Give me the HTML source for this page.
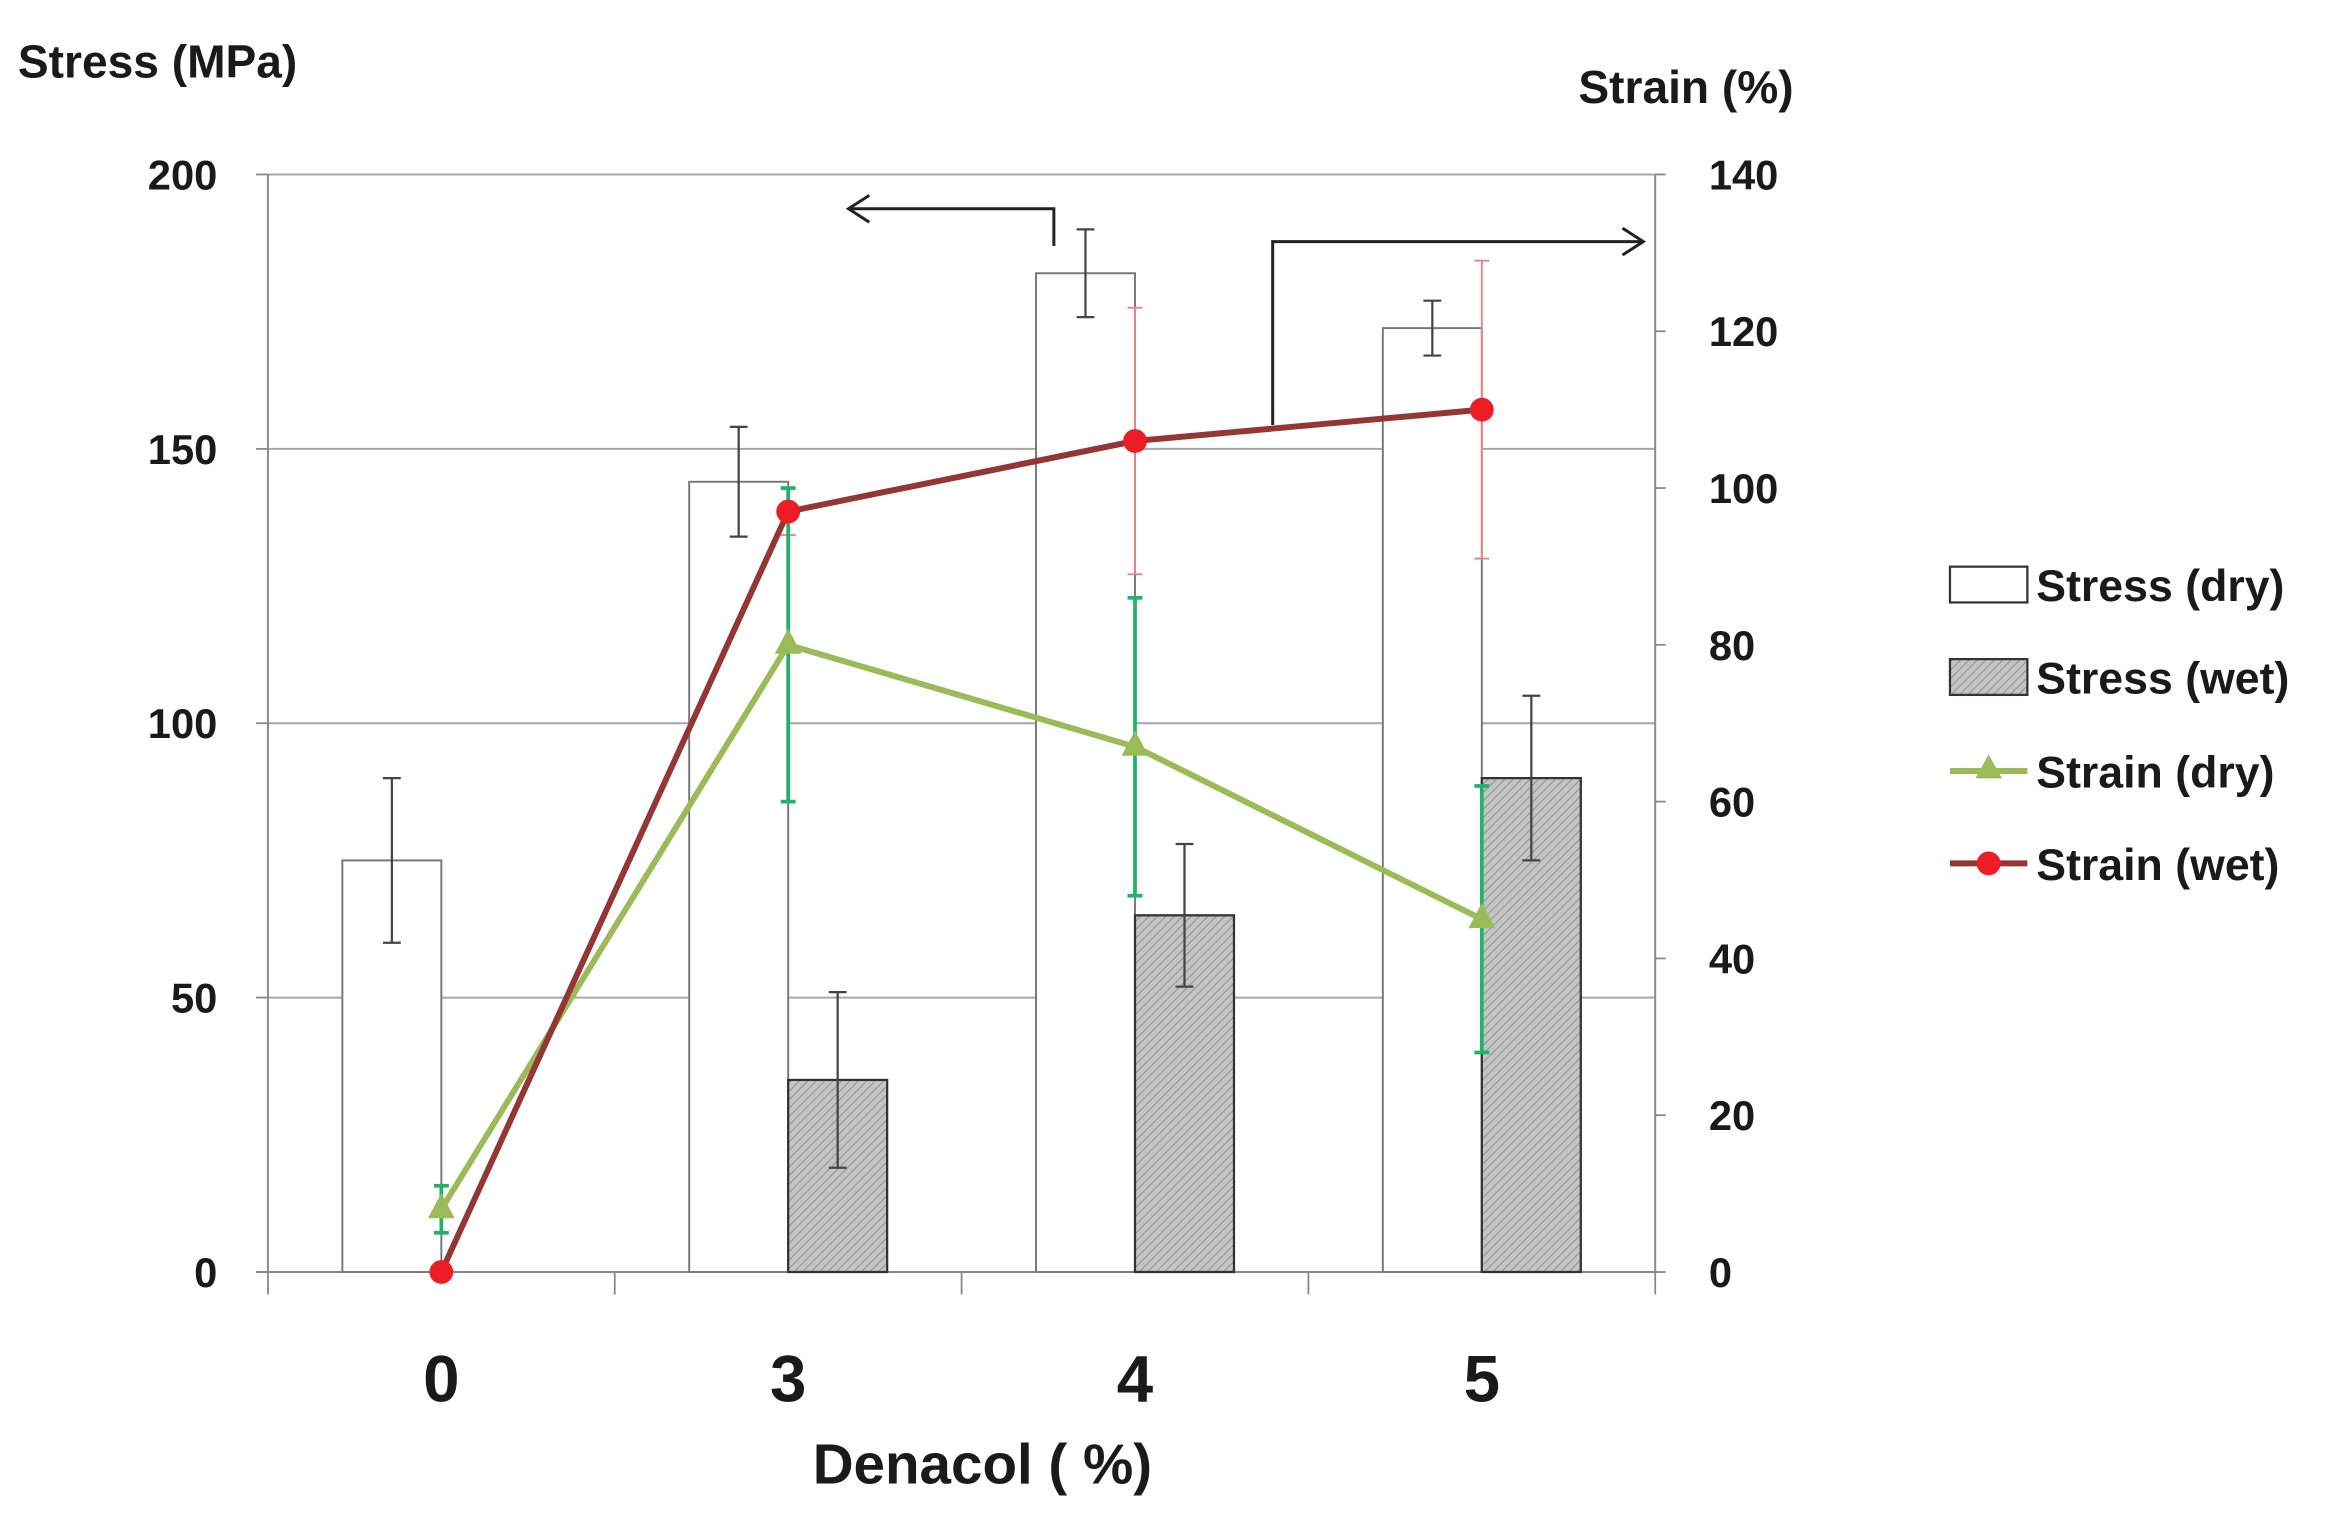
<!DOCTYPE html>
<html><head><meta charset="utf-8"><style>
html,body{margin:0;padding:0;background:#fff;}
svg{display:block;}
text{font-family:"Liberation Sans",Arial,sans-serif;font-weight:bold;fill:#1a1a1a;}
</style></head><body>
<svg id="chart" width="2334" height="1527" viewBox="0 0 1568 1024" preserveAspectRatio="none" xmlns="http://www.w3.org/2000/svg">
<defs>
<pattern id="hatch" width="4" height="4" patternUnits="userSpaceOnUse" patternTransform="rotate(45)">
<rect width="4" height="4" fill="#c4c4c4"/><line x1="0" y1="0" x2="0" y2="4" stroke="#8a8a8a" stroke-width="1.2"/>
</pattern>
</defs>
<g id="grid"></g>
<g id="bars"></g>
<g id="lines"></g>
<text x="12" y="52" font-size="31">Stress (MPa)</text>
<text x="1205" y="69" font-size="31" text-anchor="end">Strain (%)</text>
<text x="660" y="995" font-size="38" text-anchor="middle">Denacol ( %)</text>
<g fill="none" stroke="#222" stroke-width="2">
<polyline points="708,165 708,140 570,140"/><polyline points="584,131 570,140 584,149"/>
</g>
<g fill="none" stroke="#222" stroke-width="2">
<polyline points="855,285 855,162 1104,162"/><polyline points="1090,153 1104,162 1090,171"/>
</g>
<g>
<g><rect x="1310" y="380" width="52" height="24" fill="#fff" stroke="#333" stroke-width="1.5"/><text x="1368" y="403" font-size="30">Stress (dry)</text></g>
<g><rect x="1310" y="442" width="52" height="24" fill="url(#hatch)" stroke="#333" stroke-width="1.5"/><text x="1368" y="465" font-size="30">Stress (wet)</text></g>
<g><line x1="1310" y1="517" x2="1362" y2="517" stroke="#9bbb59" stroke-width="4"/><polygon points="1336,506 1345,522 1327,522" fill="#9bbb59"/><text x="1368" y="528" font-size="30">Strain (dry)</text></g>
<g><line x1="1310" y1="579" x2="1362" y2="579" stroke="#943634" stroke-width="4"/><circle cx="1336" cy="579" r="8" fill="#ee1c25"/><text x="1368" y="590" font-size="30">Strain (wet)</text></g>
</g>
<script>
const categories=["0","3","4","5"];
const stressDry=[75,144,182,172];
const stressDryErr=[15,10,8,5];
const stressWet=[0,35,65,90];
const stressWetErr=[0,16,13,15];
const strainDry=[8,80,67,45];
const strainDryErr=[3,20,19,17];
const strainWet=[0,97,106,110];
const strainWetErr=[0,3,17,19];
const leftTicks=[0,50,100,150,200];
const rightTicks=[0,20,40,60,80,100,120,140];

const NS="http://www.w3.org/2000/svg";
const X0=180,X1=1112,YT=117,YB=853;
const yL=v=>YB-(v/200)*(YB-YT);
const yR=v=>YB-(v/140)*(YB-YT);
const catW=(X1-X0)/categories.length;
const xC=i=>X0+catW*(i+0.5);
const BW=66.5;
function mk(tag,attrs,parent){const e=document.createElementNS(NS,tag);for(const k in attrs)e.setAttribute(k,attrs[k]);parent.appendChild(e);return e;}
const grid=document.getElementById('grid'),bars=document.getElementById('bars'),lines=document.getElementById('lines');

leftTicks.forEach(t=>{
  if(t>0){const l=mk('line',{x1:X0,x2:X1,y1:yL(t),y2:yL(t),stroke:'#a6a6a6','stroke-width':1.3},grid);
  
  }
  const tx=mk('text',{x:146,y:yL(t)+10,'font-size':28,'text-anchor':'end'},grid);tx.textContent=t;
  
  
});
rightTicks.forEach(t=>{
  const tx=mk('text',{x:1148,y:yR(t)+10,'font-size':28},grid);tx.textContent=t;
  
  
  mk('line',{x1:X1,x2:X1+7,y1:yR(t),y2:yR(t),stroke:'#888','stroke-width':1.2},grid);
});
mk('line',{x1:X0,x2:X0,y1:YT,y2:YB,stroke:'#888','stroke-width':1.3},grid);
mk('line',{x1:X1,x2:X1,y1:YT,y2:YB,stroke:'#888','stroke-width':1.3},grid);
const xa=mk('line',{x1:X0-8,x2:X1,y1:YB,y2:YB,stroke:'#888','stroke-width':1.3},grid);


leftTicks.forEach(t=>mk('line',{x1:X0-8,x2:X0,y1:yL(t),y2:yL(t),stroke:'#888','stroke-width':1.2},grid));
for(let i=0;i<=categories.length;i++)mk('line',{x1:X0+catW*i,x2:X0+catW*i,y1:YB,y2:YB+15,stroke:'#888','stroke-width':1.2},grid);
categories.forEach((c,i)=>{
  const tx=mk('text',{x:xC(i),y:940,'font-size':44,'text-anchor':'middle'},grid);tx.textContent=c;
  
  
});

function errBar(x,yc,yl,yh,color,w,parent,cap){
  mk('line',{x1:x,x2:x,y1:yl,y2:yh,stroke:color,'stroke-width':w},parent);
  mk('line',{x1:x-cap,x2:x+cap,y1:yl,y2:yl,stroke:color,'stroke-width':w},parent);
  mk('line',{x1:x-cap,x2:x+cap,y1:yh,y2:yh,stroke:color,'stroke-width':w},parent);
}
categories.forEach((c,i)=>{
  const xd=xC(i)-BW;
  const r=mk('rect',{x:xd,y:yL(stressDry[i]),width:BW,height:YB-yL(stressDry[i]),fill:'#fff',stroke:'#777','stroke-width':1.3},bars);
  
  
  errBar(xd+BW/2,0,yL(stressDry[i]-stressDryErr[i]),yL(stressDry[i]+stressDryErr[i]),'#444',1.5,bars,6);
  if(stressWet[i]>0){
    const w=mk('rect',{x:xC(i),y:yL(stressWet[i]),width:BW,height:YB-yL(stressWet[i]),fill:'url(#hatch)',stroke:'#333','stroke-width':1.5},bars);
    
    
    errBar(xC(i)+BW/2,0,yL(stressWet[i]-stressWetErr[i]),yL(stressWet[i]+stressWetErr[i]),'#444',1.5,bars,6);
  }
});
// strain error bars
categories.forEach((c,i)=>{
  const x=xC(i);
  errBar(x,0,yR(strainWet[i]-strainWetErr[i]),yR(strainWet[i]+strainWetErr[i]),'#e8848a',1.3,lines,5);
  errBar(x,0,yR(strainDry[i]-strainDryErr[i]),yR(strainDry[i]+strainDryErr[i]),'#1fb36a',2.5,lines,5);
});
const pd=categories.map((c,i)=>xC(i)+','+yR(strainDry[i])).join(' ');
const ld=mk('polyline',{points:pd,fill:'none',stroke:'#9bbb59','stroke-width':4},lines);


const pw=categories.map((c,i)=>xC(i)+','+yR(strainWet[i])).join(' ');
const lw=mk('polyline',{points:pw,fill:'none',stroke:'#943634','stroke-width':4},lines);


categories.forEach((c,i)=>{
  const x=xC(i),y=yR(strainDry[i]);
  const t=mk('polygon',{points:`${x},${y-11} ${x+9},${y+6} ${x-9},${y+6}`,fill:'#9bbb59'},lines);
  
  
});
categories.forEach((c,i)=>{
  const p=mk('circle',{cx:xC(i),cy:yR(strainWet[i]),r:8,fill:'#ee1c25'},lines);
  
  
});
</script>
</svg>
</body></html>
